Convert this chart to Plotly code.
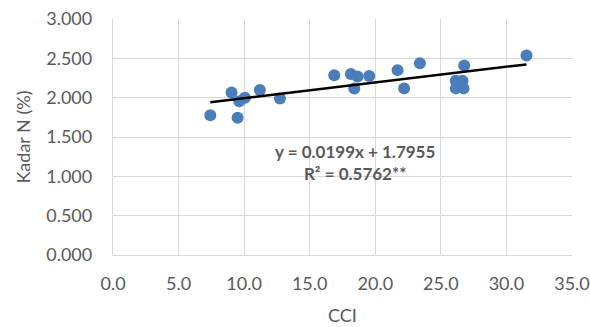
import plotly.graph_objects as go

cci = [7.42, 9.04, 9.5, 9.63, 10.06, 11.2, 12.73, 16.87, 18.14, 18.65, 18.4,
       19.54, 21.7, 22.2, 23.4, 26.78, 26.14, 26.65, 26.14, 26.73, 31.53]
kadar_n = [1.776, 2.066, 1.746, 1.955, 2.0, 2.096, 1.99, 2.284, 2.30, 2.27, 2.117,
           2.276, 2.35, 2.118, 2.438, 2.41, 2.215, 2.215, 2.118, 2.118, 2.536]

slope = 0.0199
intercept = 1.7955
eq_text = "y = 0.0199x + 1.7955<br>R² = 0.5762**"

x_ticks = [0, 5, 10, 15, 20, 25, 30, 35]
y_ticks = [0, 0.5, 1.0, 1.5, 2.0, 2.5, 3.0]

xmin, xmax = min(cci), max(cci)

font_family = "Lato, Open Sans, sans-serif"
gray = "#595959"
grid = "#d9d9d9"

fig = go.Figure()
fig.add_trace(go.Scatter(
    x=cci, y=kadar_n, mode="markers",
    marker=dict(color="#4a7ebb", size=12),
    showlegend=False, hoverinfo="skip"))
fig.add_trace(go.Scatter(
    x=[xmin, xmax], y=[slope * xmin + intercept, slope * xmax + intercept],
    mode="lines", line=dict(color="black", width=2.5),
    showlegend=False, hoverinfo="skip"))

fig.add_annotation(
    x=18.45, y=1.17, xref="x", yref="y", text=eq_text, showarrow=False,
    font=dict(family=font_family, size=17, color=gray, weight="bold"),
    align="center", yanchor="middle")

fig.update_layout(
    width=590, height=327,
    margin=dict(l=113, r=18, t=19, b=72),
    paper_bgcolor="white", plot_bgcolor="white",
    font=dict(family=font_family, color=gray, size=18),
)
fig.update_xaxes(
    range=[0, 35], tickvals=x_ticks, ticktext=[f"{v:.1f}" for v in x_ticks],
    showgrid=True, gridcolor=grid, gridwidth=1.3,
    zeroline=False, showline=True, linecolor=grid, linewidth=1.3, mirror=False,
    ticks="outside", ticklen=12, tickcolor="rgba(0,0,0,0)",
    title=dict(text="CCI", font=dict(size=18, color=gray), standoff=16),
    tickfont=dict(size=18, color=gray), fixedrange=True, automargin=False)
fig.update_yaxes(
    range=[0, 3.0], tickvals=y_ticks, ticktext=[f"{v:.3f}" for v in y_ticks],
    showgrid=True, gridcolor=grid, gridwidth=1.3,
    zeroline=False, showline=True, linecolor=grid, linewidth=1.3,
    ticks="outside", ticklen=16, tickcolor="rgba(0,0,0,0)",
    title=dict(text="Kadar N (%)", font=dict(size=18, color=gray), standoff=10),
    tickfont=dict(size=18, color=gray), fixedrange=True, automargin=False)

fig.write_html("out.html", config={"displayModeBar": False})
